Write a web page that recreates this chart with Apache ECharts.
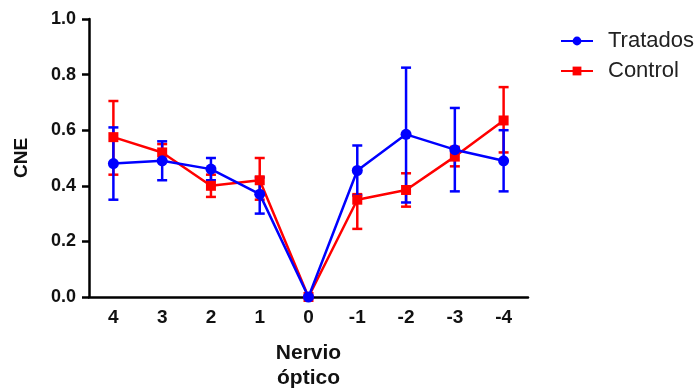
<!DOCTYPE html>
<html><head><meta charset="utf-8">
<script src="https://cdn.jsdelivr.net/npm/echarts@6/dist/echarts.min.js"></script>
<style>html,body{margin:0;padding:0;background:#fff}#c{width:700px;height:388px}</style>
</head><body><div id="c"></div>
<script>
const categories = ['4','3','2','1','0','-1','-2','-3','-4'];
const tratadosMean = [0.48, 0.49, 0.46, 0.37, 0.00, 0.455, 0.585, 0.53, 0.49];
const tratadosLow  = [0.35, 0.42, 0.42, 0.30, 0.00, 0.365, 0.34, 0.38, 0.38];
const tratadosHigh = [0.61, 0.56, 0.50, 0.43, 0.00, 0.545, 0.825, 0.68, 0.60];
const controlMean = [0.575, 0.52, 0.40, 0.42, 0.00, 0.35, 0.385, 0.505, 0.635];
const controlLow  = [0.44, 0.49, 0.36, 0.35, 0.00, 0.245, 0.325, 0.47, 0.52];
const controlHigh = [0.705, 0.55, 0.44, 0.50, 0.00, 0.37, 0.445, 0.54, 0.755];
const yTicks = [0, 0.2, 0.4, 0.6, 0.8, 1.0];

const BLUE = '#0000ff', RED = '#ff0000';
const FONT = 'Liberation Sans, Arial, sans-serif';
function errData(lo, hi){ return categories.map((c,i)=>[i, lo[i], hi[i]]); }
function errSeries(name, lo, hi, color){
  return {
    type:'custom', name, silent:true, z:3,
    itemStyle:{color},
    data: errData(lo, hi),
    renderItem(params, api){
      const x = api.value(0);
      const a = api.coord([x, api.value(1)]);
      const b = api.coord([x, api.value(2)]);
      const w = 5;
      const st = {stroke: color, lineWidth: 2.5};
      return {type:'group', children:[
        {type:'line', shape:{x1:a[0],y1:a[1],x2:b[0],y2:b[1]}, style:st},
        {type:'line', shape:{x1:a[0]-w,y1:a[1],x2:a[0]+w,y2:a[1]}, style:st},
        {type:'line', shape:{x1:b[0]-w,y1:b[1],x2:b[0]+w,y2:b[1]}, style:st}
      ]};
    }
  };
}
const chart = echarts.init(document.getElementById('c'));
chart.setOption({
  animation:false,
  backgroundColor:'#fff',
  legend:{
    orient:'vertical', left:555, top:25, itemGap:8, itemWidth:32, itemHeight:11,
    textStyle:{fontFamily:FONT, fontSize:22, color:'#222', padding:[0,0,0,10]},
    data:['Tratados','Control']
  },
  grid:{left:89, right:172, top:19, bottom:91, containLabel:false, outerBoundsMode:'none'},
  xAxis:{
    type:'category', data:categories, boundaryGap:true,
    name:'Nervio\nóptico', nameLocation:'middle', nameGap:44,
    nameTextStyle:{fontFamily:FONT, fontWeight:'bold', fontSize:21, color:'#111', lineHeight:25},
    axisLine:{lineStyle:{color:'#000', width:2.5}},
    axisTick:{alignWithLabel:true, length:7, lineStyle:{color:'#000', width:2.5}},
    axisLabel:{fontFamily:FONT, fontWeight:'bold', fontSize:19, color:'#111', margin:11},
    splitLine:{show:false}
  },
  yAxis:{
    type:'value', min:0, max:1, interval:0.2,
    name:'CNE', nameLocation:'middle', nameGap:58, nameRotate:90,
    nameTextStyle:{fontFamily:FONT, fontWeight:'bold', fontSize:19, color:'#111'},
    axisLine:{show:true, lineStyle:{color:'#000', width:2.5}},
    axisTick:{show:true, length:7, lineStyle:{color:'#000', width:2.5}},
    axisLabel:{fontFamily:FONT, fontWeight:'bold', fontSize:18, color:'#111', margin:13,
      formatter:v=>{const t=yTicks.find(x=>Math.abs(x-v)<1e-9); return t===undefined?'':t.toFixed(1);}},
    splitLine:{show:false}
  },
  series:[
    errSeries('Control err', controlLow, controlHigh, RED),
    {type:'line', name:'Control', data:controlMean, symbol:'rect', symbolSize:10, z:4,
     itemStyle:{color:RED}, lineStyle:{color:RED, width:2.5}},
    errSeries('Tratados err', tratadosLow, tratadosHigh, BLUE),
    {type:'line', name:'Tratados', data:tratadosMean, symbol:'circle', symbolSize:11, z:5,
     itemStyle:{color:BLUE}, lineStyle:{color:BLUE, width:2.5}}
  ]
});
</script></body></html>
